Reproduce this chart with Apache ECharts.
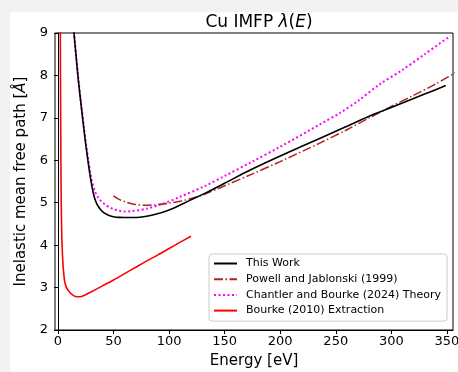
<!DOCTYPE html>
<html>
<head>
<meta charset="utf-8">
<script src="https://cdn.jsdelivr.net/npm/echarts@6/dist/echarts.min.js"></script>
<style>
html,body{margin:0;padding:0;background:#f2f2f2;}
#chart{width:458px;height:372px;}
</style>
</head>
<body>
<div id="chart"></div>
<script>
// ---- data (energy eV, IMFP Å) ----
const seriesNames = ["This Work", "Powell and Jablonski (1999)", "Chantler and Bourke (2024) Theory", "Bourke (2010) Extraction"];
const xTicks = [0, 50, 100, 150, 200, 250, 300, 350];
const yTicks = [2, 3, 4, 5, 6, 7, 8, 9];

const thisWorkE = [13.0, 14.4, 16, 18.3, 20.5, 23.4, 25, 27.3, 29.4, 32, 34, 36.3, 40, 45, 50, 55, 66, 77, 87, 100, 111, 132, 150, 173, 200, 236, 260, 281, 310, 330, 349];
const thisWorkL = [9.45, 9.0, 8.53, 7.89, 7.37, 6.71, 6.37, 5.92, 5.55, 5.20, 5.03, 4.91, 4.79, 4.71, 4.67, 4.655, 4.65, 4.67, 4.72, 4.83, 4.96, 5.22, 5.46, 5.77, 6.10, 6.52, 6.80, 7.05, 7.35, 7.56, 7.76];

const powellE = [49.8, 55, 62, 69.3, 78, 87.3, 100, 111, 120, 132, 150, 175, 200, 236, 260, 280, 300, 320, 340, 360];
const powellL = [5.16, 5.08, 5.01, 4.96, 4.94, 4.95, 4.99, 5.04, 5.10, 5.20, 5.40, 5.68, 5.97, 6.41, 6.72, 7.00, 7.27, 7.53, 7.80, 8.10];

const chantlerE = [13.0, 14.4, 16, 18.3, 20.5, 23.4, 25, 27.3, 30.3, 33, 36, 39, 42.3, 46, 50, 55, 60, 66, 80, 96, 110, 132, 150, 175, 200, 236, 254, 270, 290, 310, 330, 353];
const chantlerL = [9.45, 9.0, 8.55, 7.92, 7.40, 6.76, 6.44, 6.00, 5.54, 5.28, 5.13, 5.03, 4.96, 4.895, 4.85, 4.81, 4.795, 4.80, 4.86, 4.99, 5.14, 5.39, 5.63, 5.97, 6.32, 6.85, 7.12, 7.40, 7.80, 8.13, 8.50, 8.93];

const bourkeE = [2.0, 2.1, 2.2, 2.35, 2.5, 2.7, 2.9, 3.1, 3.3, 3.6, 4.0, 4.5, 5.0, 5.7, 6.5, 7.5, 8.5, 9.3, 10.5, 12, 14, 16, 17.4, 19, 21, 24, 27, 30, 35, 40, 50, 60, 70, 80, 90, 100, 110, 119.7];
const bourkeL = [10.5, 9.0, 8.2, 7.3, 6.6, 5.6, 5.05, 4.65, 4.36, 4.05, 3.78, 3.55, 3.38, 3.20, 3.09, 3.01, 2.96, 2.93, 2.89, 2.85, 2.81, 2.79, 2.785, 2.785, 2.79, 2.82, 2.86, 2.90, 2.97, 3.04, 3.18, 3.33, 3.48, 3.63, 3.77, 3.92, 4.07, 4.21];

function pairs(xs, ys) { return xs.map((x, i) => [x, ys[i]]); }

const FONT = "DejaVu Sans";
const chart = echarts.init(document.getElementById('chart'), null, {renderer: 'canvas'});
chart.setOption({
  backgroundColor: '#f2f2f2',
  animation: false,
  graphic: [{
    type: 'rect', z: -100, silent: true,
    shape: {x: 10, y: 12, width: 448, height: 360},
    style: {fill: '#ffffff'}
  }],
  title: {
    text: '{n|Cu IMFP }{i|λ}{n|(}{i|E}{n|)}',
    left: 254, top: 9, textAlign: 'center',
    textStyle: {
      fontWeight: 'normal',
      rich: {
        n: {fontFamily: FONT, fontSize: 17, fontWeight: 'normal', color: '#000'},
        i: {fontFamily: FONT, fontSize: 17, fontWeight: 'normal', fontStyle: 'italic', color: '#000'}
      }
    }
  },
  grid: {left: 55, right: 5, top: 33, bottom: 42, show: true, borderColor: '#000', borderWidth: 1, backgroundColor: '#fff', containLabel: false, outerBoundsMode: 'none'},
  xAxis: {
    type: 'value', min: -2.7, max: 355.5,
    name: 'Energy [eV]', nameLocation: 'middle', nameGap: 24,
    nameTextStyle: {fontFamily: FONT, fontSize: 15, color: '#000'},
    axisLine: {show: true, onZero: false, lineStyle: {color: '#000', width: 1}},
    axisTick: {show: true, length: 4, lineStyle: {color: '#000'}, customValues: xTicks},
    axisLabel: {fontFamily: FONT, fontSize: 13, color: '#000', margin: 5, customValues: xTicks, hideOverlap: false},
    splitLine: {show: false}
  },
  yAxis: {
    type: 'value', min: 2, max: 9, interval: 1,
    name: '{n|Inelastic mean free path [}{i|Å}{n|]}', nameLocation: 'middle', nameGap: 25, nameRotate: 90,
    nameTextStyle: {
      rich: {
        n: {fontFamily: FONT, fontSize: 15, color: '#000'},
        i: {fontFamily: FONT, fontSize: 15, fontStyle: 'italic', color: '#000'}
      }
    },
    axisLine: {show: true, lineStyle: {color: '#000', width: 1}},
    axisTick: {show: true, length: 4, lineStyle: {color: '#000'}},
    axisLabel: {fontFamily: FONT, fontSize: 13, color: '#000', margin: 7, formatter: v => String(v)},
    splitLine: {show: false}
  },
  legend: {
    orient: 'vertical', left: 209, top: 254,
    padding: [4, 6, 5, 4],
    backgroundColor: 'rgba(255,255,255,0.85)', borderColor: '#cccccc', borderWidth: 1, borderRadius: 3,
    itemWidth: 23, itemHeight: 12, itemGap: 4.7,
    itemStyle: {opacity: 0},
    textStyle: {fontFamily: FONT, fontSize: 11, color: '#000', padding: [0, 0, 0, 4]},
    data: seriesNames
  },
  series: [
    {name: seriesNames[0], type: 'line', data: pairs(thisWorkE, thisWorkL), smooth: 0.3, symbol: 'none', clip: true,
      lineStyle: {color: '#000000', width: 1.6}, itemStyle: {color: '#000000'}, z: 5},
    {name: seriesNames[1], type: 'line', data: pairs(powellE, powellL), smooth: 0.3, symbol: 'none', clip: true,
      lineStyle: {color: '#b22222', width: 1.5, type: [9, 2.5, 1.5, 2.5]}, itemStyle: {color: '#b22222'}, z: 4},
    {name: seriesNames[2], type: 'line', data: pairs(chantlerE, chantlerL), smooth: 0.3, symbol: 'none', clip: true,
      lineStyle: {color: '#ff00ff', width: 2, type: [2, 2.5]}, itemStyle: {color: '#ff00ff'}, z: 3},
    {name: seriesNames[3], type: 'line', data: pairs(bourkeE, bourkeL), smooth: 0.3, symbol: 'none', clip: true,
      lineStyle: {color: '#ff0000', width: 1.6}, itemStyle: {color: '#ff0000'}, z: 6}
  ]
});
</script>
</body>
</html>
